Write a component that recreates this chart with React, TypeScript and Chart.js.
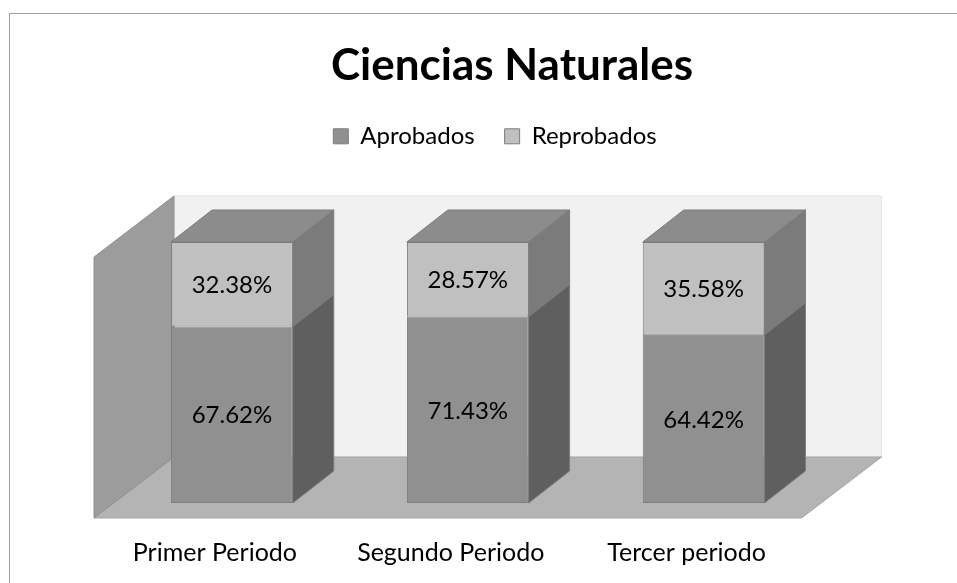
import React, { useEffect, useRef } from 'react';
import { Chart, registerables } from 'chart.js';

Chart.register(...registerables);

// ---- data ----
const titleText = 'Ciencias Naturales';
const categories = ['Primer Periodo', 'Segundo Periodo', 'Tercer periodo'];
const seriesNames = ['Aprobados', 'Reprobados'];
const aprobados = [67.62, 71.43, 64.42];
const reprobados = [32.38, 28.57, 35.58];

// ---- styles ----
const FONT = "Lato, 'Open Sans', sans-serif";
const frontColors = ['#909090', '#c0c0c0'];
const sideColors = ['#5f5f5f', '#7b7b7b'];
const topColor = '#8c8c8c';
const edgeColor = '#7c7c7c';
const BAR_DX = 41;
const BAR_DY = 32;
const FRONT = { x: -20, y: 15 };
const BACK = { x: 60, y: -46 };

function poly(ctx: CanvasRenderingContext2D, pts: number[][], fill: string, stroke?: string) {
  ctx.beginPath();
  pts.forEach((p, i) => (i === 0 ? ctx.moveTo(p[0], p[1]) : ctx.lineTo(p[0], p[1])));
  ctx.closePath();
  ctx.fillStyle = fill;
  ctx.fill();
  if (stroke) {
    ctx.strokeStyle = stroke;
    ctx.lineWidth = 1;
    ctx.stroke();
  }
}

const boxShift = {
  id: 'boxShift',
  afterLayout(chart: any, _args: any, opts: any) {
    const t = chart.titleBlock;
    if (t) {
      const d = opts.titleCenter - (t.left + t.right) / 2;
      t.left += d;
      t.right += d;
    }
    const l = chart.legend;
    if (l) {
      const d = opts.legendCenter - (l.left + l.right) / 2;
      l.left += d;
      l.right += d;
    }
  },
};

const frame3d = {
  id: 'frame3d',
  beforeDraw(chart: any) {
    const ctx = chart.ctx as CanvasRenderingContext2D;
    ctx.save();
    ctx.fillStyle = '#ffffff';
    ctx.fillRect(0, 0, chart.width, chart.height);
    ctx.strokeStyle = '#a0a0a0';
    ctx.lineWidth = 1;
    ctx.strokeRect(9.5, 13.5, chart.width + 100, chart.height + 100);
    ctx.restore();
  },
  beforeDatasetsDraw(chart: any) {
    const ctx = chart.ctx as CanvasRenderingContext2D;
    const { left: L, right: R } = chart.chartArea;
    const y = chart.scales.y;
    const y0 = y.getPixelForValue(0);
    const y100 = y.getPixelForValue(100);
    ctx.save();
    // back wall
    poly(ctx, [[L + BACK.x, y100 + BACK.y], [R + BACK.x, y100 + BACK.y], [R + BACK.x, y0 + BACK.y], [L + BACK.x, y0 + BACK.y]], '#f1f1f1', '#e4e4e4');
    // floor
    poly(ctx, [[L + FRONT.x, y0 + FRONT.y], [R + FRONT.x, y0 + FRONT.y], [R + BACK.x, y0 + BACK.y], [L + BACK.x, y0 + BACK.y]], '#b4b4b4', '#a3a3a3');
    // left wall
    poly(ctx, [[L + FRONT.x, y0 + FRONT.y], [L + FRONT.x, y100 + FRONT.y], [L + BACK.x, y100 + BACK.y], [L + BACK.x, y0 + BACK.y]], '#9c9c9c', '#909090');
    ctx.restore();
  },
  afterDatasetsDraw(chart: any) {
    const ctx = chart.ctx as CanvasRenderingContext2D;
    const n = chart.data.datasets.length;
    ctx.save();
    for (let di = 0; di < n; di++) {
      const meta = chart.getDatasetMeta(di);
      meta.data.forEach((el: any) => {
        const { x, y, base, width } = el.getProps(['x', 'y', 'base', 'width'], true);
        const xl = x - width / 2;
        const xr = x + width / 2;
        poly(ctx, [[xr, y], [xr + BAR_DX, y - BAR_DY], [xr + BAR_DX, base - BAR_DY], [xr, base]], sideColors[di], edgeColor);
        if (di === n - 1) {
          poly(ctx, [[xl, y], [xl + BAR_DX, y - BAR_DY], [xr + BAR_DX, y - BAR_DY], [xr, y]], topColor, edgeColor);
        }
      });
    }
    // value labels
    ctx.font = `24px ${FONT}`;
    ctx.textAlign = 'center';
    ctx.textBaseline = 'middle';
    ctx.fillStyle = '#000000';
    for (let di = 0; di < n; di++) {
      const meta = chart.getDatasetMeta(di);
      const vals = chart.data.datasets[di].data as number[];
      meta.data.forEach((el: any, i: number) => {
        const { x, y, base } = el.getProps(['x', 'y', 'base'], true);
        ctx.fillText(`${vals[i].toFixed(2)}%`, x, (y + base) / 2 + 1);
      });
    }
    ctx.restore();
  },
};

export default function App() {
  const ref = useRef<HTMLCanvasElement | null>(null);

  useEffect(() => {
    if (!ref.current) return;
    const chart = new Chart(ref.current, {
      type: 'bar',
      data: {
        labels: categories,
        datasets: [
          {
            label: seriesNames[0],
            data: aprobados,
            backgroundColor: frontColors[0],
            borderColor: edgeColor,
            borderWidth: 1,
            borderSkipped: false,
          },
          {
            label: seriesNames[1],
            data: reprobados,
            backgroundColor: frontColors[1],
            borderColor: edgeColor,
            borderWidth: 1,
            borderSkipped: false,
          },
        ],
      },
      options: {
        animation: false,
        responsive: true,
        maintainAspectRatio: false,
        events: [],
        layout: { padding: { left: 114, right: 135.5, top: 0, bottom: 0 } },
        datasets: { bar: { barPercentage: 0.516, categoryPercentage: 1 } },
        plugins: {
          tooltip: { enabled: false },
          title: {
            display: true,
            text: titleText,
            color: '#000000',
            font: { family: FONT, size: 44, weight: 'bold', lineHeight: 1.2 },
            padding: { top: 39.1, bottom: 2.4 },
          },
          legend: {
            display: true,
            position: 'top',
            labels: {
              color: '#000000',
              font: { family: FONT, size: 24 },
              boxWidth: 15,
              boxHeight: 15,
              padding: 30,
            },
          },
          boxShift: { titleCenter: 512, legendCenter: 495 },
        } as any,
        scales: {
          x: {
            stacked: true,
            grid: { display: false, drawTicks: false },
            border: { display: false },
            ticks: {
              color: '#000000',
              font: { family: FONT, size: 25 },
              padding: 35.4,
              labelOffset: -17,
              maxRotation: 0,
              autoSkip: false,
            },
            afterFit: (s: any) => {
              s.height = 80;
            },
          },
          xTop: {
            type: 'category',
            position: 'top',
            display: true,
            grid: { display: false, drawTicks: false },
            border: { display: false },
            ticks: { display: false },
            afterFit: (s: any) => {
              s.height = 83.7;
            },
          },
          y: {
            stacked: true,
            min: 0,
            max: 100,
            display: false,
          },
        } as any,
      },
      plugins: [boxShift, frame3d],
    });
    return () => chart.destroy();
  }, []);

  return (
    <div style={{ position: 'fixed', left: 0, top: 0, width: 957, height: 583, background: '#fff' }}>
      <canvas ref={ref} />
    </div>
  );
}
